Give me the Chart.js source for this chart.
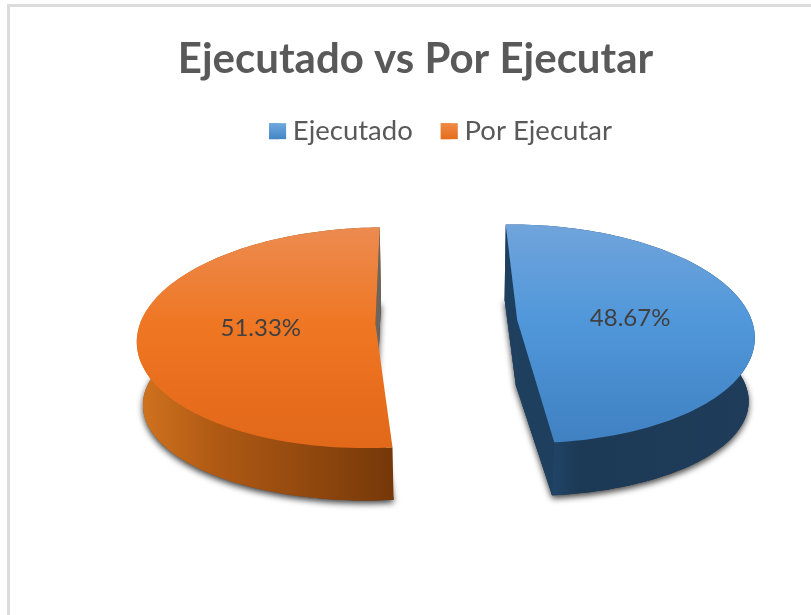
<!DOCTYPE html>
<html>
<head>
<meta charset="utf-8">
<style>
  html, body { margin: 0; padding: 0; background: #fff; overflow: hidden; }
  #frame { position: absolute; left: 7px; top: 4px; width: 804px; height: 611px; box-sizing: border-box; border-top: 3px solid #dcdcdc; border-left: 3px solid #dcdcdc; }
  #wrap { position: absolute; left: 0; top: 0; width: 811px; height: 615px; }
</style>
<script src="https://cdn.jsdelivr.net/npm/chart.js@4"></script>
</head>
<body>
<div id="frame"></div>
<div id="wrap"><canvas id="chart1" width="811" height="615"></canvas></div>
<script>
const categories = ['Ejecutado', 'Por Ejecutar'];
const values = [48.67, 51.33];
const valueLabels = ['48.67%', '51.33%'];
const sliceColors = ['#5B9BD5', '#ED7D31'];

// pie camera, the chart area centre is not where the pie sits in the picture
const pieX = 446.5, pieY = 322;
const squash = 0.46, persp = 0.125, depth = 65, shrink = 0.02, lift = 0.1;
const legendShift = 25;

const looks = [
    {
        top: [[0, '#70A4DB'], [0.45, '#5097DA'], [1, '#4081C2']],
        rim: [[0, '#2A5585'], [0.3, '#1C3A56'], [1, '#1F3D5A']],
        wall: '#1F3F5F',
        wallsShown: [0, 1],
        swatch: ['#6FA8DE', '#4485C6']
    },
    {
        top: [[0, '#EC8B50'], [0.45, '#EF7622'], [1, '#E2681A']],
        rim: [[0, '#D2741F'], [0.3, '#B05A14'], [1, '#763809']],
        wall: '#6B6560',
        wallsShown: [1],
        swatch: ['#F08A45', '#E56C1C']
    }
];

function project(u, v, z, R) {
    const s = 1 / (1 - persp * v / R);
    return {
        x: pieX + u * s * (1 - shrink * z),
        y: pieY + squash * v * s * (1 - lift * z) + z * depth
    };
}

function slicePoints(arc, z) {
    const R = arc.outerRadius;
    const mid = (arc.startAngle + arc.endAngle) / 2;
    const ox = Math.cos(mid) * arc.options.offset;
    const oy = Math.sin(mid) * arc.options.offset;
    const pts = [];
    for (let i = 0; i <= 120; i++) {
        const a = arc.startAngle + (arc.endAngle - arc.startAngle) * i / 120;
        pts.push(project(ox + R * Math.cos(a), oy + R * Math.sin(a), z, R));
    }
    return { pts: pts, apex: project(ox, oy, z, R) };
}

function tracePath(ctx, pts) {
    ctx.beginPath();
    pts.forEach((p, i) => i ? ctx.lineTo(p.x, p.y) : ctx.moveTo(p.x, p.y));
    ctx.closePath();
}

function makeGradient(ctx, x0, y0, x1, y1, stops) {
    const g = ctx.createLinearGradient(x0, y0, x1, y1);
    stops.forEach(s => g.addColorStop(s[0], s[1]));
    return g;
}

const pie3d = {
    id: 'pie3d',
    afterLayout(chart) {
        // legend sits right of the title in the original
        chart.legend.left += legendShift;
        chart.legend.right += legendShift;
    },
    beforeDatasetsDraw(chart) {
        const ctx = chart.ctx;
        const arcs = chart.getDatasetMeta(0).data;
        const parts = arcs.map(arc => {
            const t = slicePoints(arc, 0), b = slicePoints(arc, 1);
            return {
                top: [t.apex].concat(t.pts),
                bottom: [b.apex].concat(b.pts),
                rim: t.pts.concat(b.pts.slice().reverse()),
                walls: [
                    [t.apex, t.pts[0], b.pts[0], b.apex],
                    [t.apex, t.pts[120], b.pts[120], b.apex]
                ]
            };
        });

        // shadow pass, only the lower face throws one
        ctx.save();
        ctx.shadowColor = 'rgba(0,0,0,0.75)';
        ctx.shadowBlur = 6;
        ctx.shadowOffsetY = 3;
        ctx.fillStyle = '#444';
        parts.forEach(p => {
            tracePath(ctx, p.bottom);
            ctx.fill();
        });
        ctx.restore();

        parts.forEach((p, i) => {
            const look = looks[i];
            const xs = p.rim.map(q => q.x);
            const ys = p.top.map(q => q.y);
            const minX = Math.min.apply(null, xs), maxX = Math.max.apply(null, xs);
            const minY = Math.min.apply(null, ys), maxY = Math.max.apply(null, ys);

            ctx.fillStyle = makeGradient(ctx, minX, 0, maxX, 0, look.rim);
            tracePath(ctx, p.bottom);
            ctx.fill();
            tracePath(ctx, p.rim);
            ctx.fill();

            ctx.fillStyle = look.wall;
            look.wallsShown.forEach(w => { tracePath(ctx, p.walls[w]); ctx.fill(); });

            ctx.fillStyle = makeGradient(ctx, 0, minY, 0, maxY, look.top);
            tracePath(ctx, p.top);
            ctx.fill();
        });

        // value labels
        ctx.save();
        ctx.fillStyle = '#404040';
        ctx.font = '24px Lato';
        ctx.textAlign = 'center';
        ctx.textBaseline = 'middle';
        arcs.forEach((arc, i) => {
            const mid = (arc.startAngle + arc.endAngle) / 2;
            const r = arc.outerRadius * 0.485 + arc.options.offset;
            const c = project(Math.cos(mid) * r, Math.sin(mid) * r, 0, arc.outerRadius);
            ctx.fillText(valueLabels[i], c.x, c.y + 1);
        });
        ctx.restore();
        return false;
    },
    afterDraw(chart) {
        // legend keys are wider than the gap the legend leaves before its text
        const ctx = chart.ctx;
        chart.legend.legendHitBoxes.forEach((hit, i) => {
            const cy = hit.top + hit.height / 2;
            ctx.fillStyle = makeGradient(ctx, 0, cy - 8, 0, cy + 8,
                [[0, looks[i].swatch[0]], [1, looks[i].swatch[1]]]);
            ctx.fillRect(hit.left, cy - 8, 17, 16);
        });
    }
};

const cht1 = document.getElementById('chart1');
new Chart(cht1, {
    type: 'pie',
    data: {
        labels: categories,
        datasets: [{
            data: values,
            backgroundColor: sliceColors,
            borderWidth: 0,
            offset: 71
        }]
    },
    options: {
        responsive: false,
        animation: false,
        rotation: -1,
        radius: 235,
        layout: { padding: { left: 20, top: 20, bottom: 60 } },
        plugins: {
            title: {
                display: true,
                text: 'Ejecutado vs Por Ejecutar',
                color: '#595959',
                font: { family: 'Lato', size: 42, weight: 'bold' },
                padding: { top: 14, bottom: 5 }
            },
            legend: {
                position: 'top',
                labels: {
                    color: '#595959',
                    font: { family: 'Lato', size: 27.5 },
                    boxWidth: 10,
                    boxHeight: 16,
                    padding: 28
                }
            },
            tooltip: { enabled: false }
        }
    },
    plugins: [pie3d]
});
</script>
</body>
</html>
